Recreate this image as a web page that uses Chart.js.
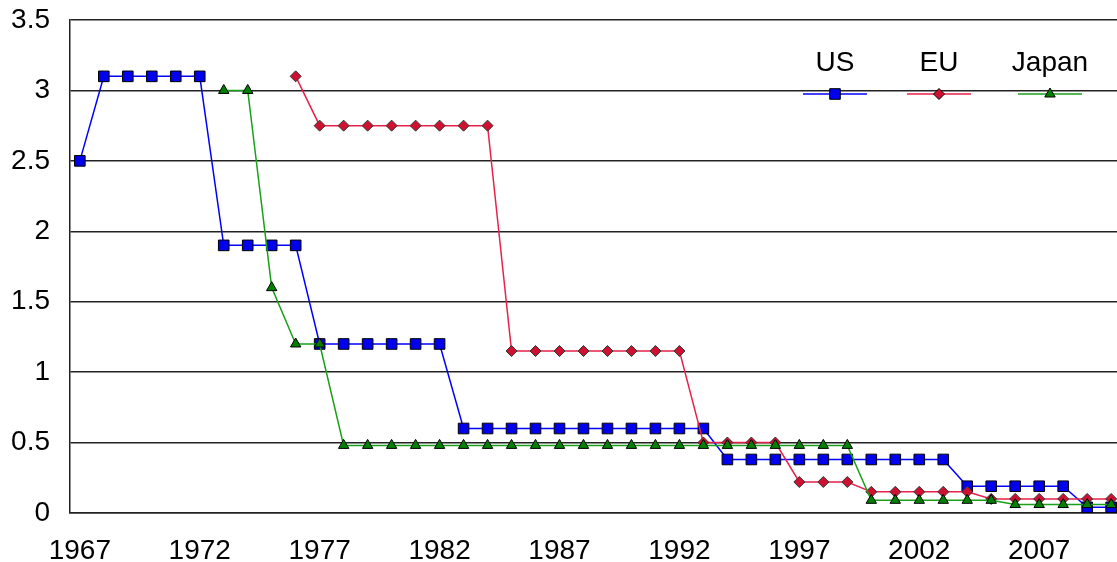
<!DOCTYPE html>
<html>
<head>
<meta charset="utf-8">
<script src="https://cdn.jsdelivr.net/npm/chart.js@4.4.0/dist/chart.umd.min.js"></script>
<style>
  body { margin: 0; background: #fff; }
  #wrap { width: 1117px; height: 562px; overflow: hidden; position: relative; }
  #box { width: 1170px; height: 562px; }
</style>
</head>
<body>
<div id="wrap"><div id="box"><canvas id="chart"></canvas></div></div>
<script>
// years shown on the axis
let years = [];
for (let y = 1967; y <= 2010; y++) { years.push(y); }

let xTicks = [1967, 1972, 1977, 1982, 1987, 1992, 1997, 2002, 2007];

// values, one per year (null = no point)
let usValues = [2.5, 3.1, 3.1, 3.1, 3.1, 3.1, 1.9, 1.9, 1.9, 1.9,
    1.2, 1.2, 1.2, 1.2, 1.2, 1.2, 0.6, 0.6, 0.6, 0.6,
    0.6, 0.6, 0.6, 0.6, 0.6, 0.6, 0.6, 0.38, 0.38, 0.38,
    0.38, 0.38, 0.38, 0.38, 0.38, 0.38, 0.38, 0.19, 0.19, 0.19,
    0.19, 0.19, 0.04, 0.04];

let euValues = [null, null, null, null, null, null, null, null, null, 3.1,
    2.75, 2.75, 2.75, 2.75, 2.75, 2.75, 2.75, 2.75, 1.15, 1.15,
    1.15, 1.15, 1.15, 1.15, 1.15, 1.15, 0.5, 0.5, 0.5, 0.5,
    0.22, 0.22, 0.22, 0.15, 0.15, 0.15, 0.15, 0.15, 0.1, 0.1,
    0.1, 0.1, 0.1, 0.1];

let japanValues = [null, null, null, null, null, null, 3.0, 3.0, 1.6, 1.2,
    1.2, 0.48, 0.48, 0.48, 0.48, 0.48, 0.48, 0.48, 0.48, 0.48,
    0.48, 0.48, 0.48, 0.48, 0.48, 0.48, 0.48, 0.48, 0.48, 0.48,
    0.48, 0.48, 0.48, 0.09, 0.09, 0.09, 0.09, 0.09, 0.09, 0.06,
    0.06, 0.06, 0.06, 0.06];

function toPoints(vals) {
    let pts = [];
    for (let i = 0; i < years.length; i++) {
        if (vals[i] !== null) { pts.push({x: years[i], y: vals[i]}); }
    }
    return pts;
}

const FONT = "'Liberation Sans', Arial, sans-serif";

// legend: name above a short line sample, like the old spreadsheet chart
const legendPlugin = {
    id: 'topLegend',
    afterDraw(chart) {
        let ctx = chart.ctx;
        let centers = [835, 939, 1050];
        ctx.save();
        chart.data.datasets.forEach(function (ds, i) {
            let cx = centers[i];
            ctx.fillStyle = '#000';
            ctx.font = '28px ' + FONT;
            ctx.textAlign = 'center';
            ctx.textBaseline = 'middle';
            ctx.fillText(ds.label, cx, 63);
            ctx.strokeStyle = ds.borderColor;
            ctx.lineWidth = 1.5;
            ctx.beginPath();
            ctx.moveTo(cx - 32, 94);
            ctx.lineTo(cx + 32, 94);
            ctx.stroke();
            ctx.fillStyle = ds.pointBackgroundColor;
            ctx.strokeStyle = '#000';
            ctx.lineWidth = 1;
            Chart.helpers.drawPoint(ctx, {
                pointStyle: ds.pointStyle,
                radius: ds.pointRadius,
                borderWidth: 1,
                rotation: 0
            }, cx, 94);
        });
        ctx.restore();
    }
};

let ctx = document.getElementById('chart').getContext('2d');
let chart = new Chart(ctx, {
    type: 'line',
    data: {
        datasets: [{
            label: 'US',
            data: toPoints(usValues),
            borderColor: '#0000ff',
            borderWidth: 1.5,
            pointStyle: 'rect',
            pointRadius: 7.5,
            pointBackgroundColor: '#0000ee',
            pointBorderColor: '#000',
            pointBorderWidth: 1,
            order: 2
        }, {
            label: 'EU',
            data: toPoints(euValues),
            borderColor: '#e8204a',
            borderWidth: 1.5,
            pointStyle: 'rectRot',
            pointRadius: 5.5,
            pointBackgroundColor: '#d01030',
            pointBorderColor: '#333',
            pointBorderWidth: 1,
            order: 1
        }, {
            label: 'Japan',
            data: toPoints(japanValues),
            borderColor: '#18a018',
            borderWidth: 1.5,
            pointStyle: 'triangle',
            pointRadius: 6,
            pointBackgroundColor: '#008000',
            pointBorderColor: '#000',
            pointBorderWidth: 1,
            order: 0
        }]
    },
    options: {
        responsive: true,
        maintainAspectRatio: false,
        animation: false,
        layout: { padding: { top: 20, right: 0, left: 0, bottom: 0 } },
        plugins: {
            legend: { display: false },
            tooltip: { enabled: false }
        },
        scales: {
            x: {
                type: 'linear',
                min: 1966.59,
                max: 2012.1,
                afterBuildTicks: function (scale) {
                    scale.ticks = xTicks.map(function (v) { return {value: v}; });
                },
                afterFit: function (scale) {
                    scale.height = 49;
                    scale.paddingLeft = 0;
                    scale.paddingRight = 0;
                },
                ticks: {
                    autoSkip: false,
                    maxRotation: 0,
                    padding: 21,
                    color: '#000',
                    font: { family: FONT, size: 28 },
                    callback: function (v) { return String(v); }
                },
                grid: { display: false, drawTicks: false },
                border: { display: true, color: '#222', width: 1.5 }
            },
            y: {
                min: 0,
                max: 3.5,
                ticks: {
                    stepSize: 0.5,
                    padding: 20,
                    color: '#000',
                    font: { family: FONT, size: 28 },
                    callback: function (v) { return String(v); }
                },
                afterFit: function (scale) {
                    scale.width = 70;
                    scale.paddingTop = 0;
                    scale.paddingBottom = 0;
                },
                grid: { color: '#222', lineWidth: 1.5, drawTicks: false },
                border: { display: true, color: '#222', width: 1.5 }
            }
        }
    },
    plugins: [legendPlugin]
});
</script>
</body>
</html>
